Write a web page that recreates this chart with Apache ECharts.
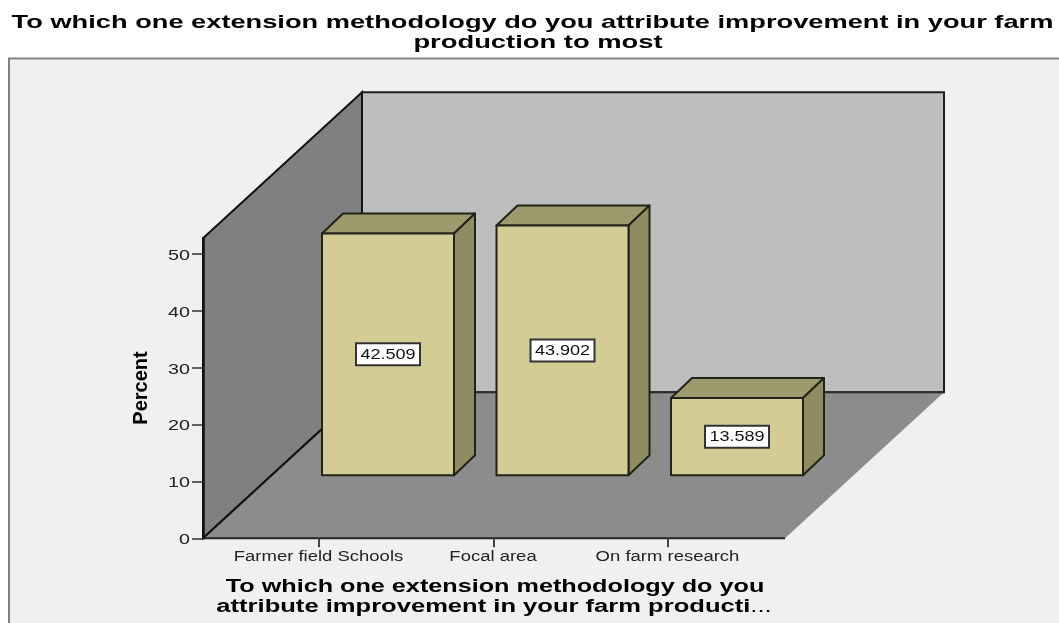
<!DOCTYPE html>
<html>
<head>
<meta charset="utf-8">
<style>html,body{margin:0;padding:0;background:#fff;overflow:hidden}#c{width:1059px;height:623px}</style>
<script src="https://cdn.jsdelivr.net/npm/echarts@6/dist/echarts.min.js"></script>
</head>
<body>
<div id="c"></div>
<script>
const categories = ['Farmer field Schools', 'Focal area', 'On farm research'];
const percents = [42.509, 43.902, 13.589];
const yTicks = [0, 10, 20, 30, 40, 50];
const yMax = 52.72;
const titleLines = ['To which one extension methodology do you attribute improvement in your farm', 'production to most'];
const xTitleLines = ['To which one extension methodology do you', 'attribute improvement in your farm producti'];
const yTitle = 'Percent';

const FONT = '"Liberation Sans", Arial, sans-serif';
const DEPTH_X = 159, DEPTH_Y = 146, WALL_INSET = 28.75;
const BAR_W = 132, BAR_DX = 69, BAR_DY = 63, BAR_DEPTH_X = 21, BAR_DEPTH_Y = 20;
const STROKE = '#222218';

function pts(a){ return {points:a}; }

function renderScene(params, api){
  const cs = params.coordSys;
  const base = api.coord([0, 0])[1];
  const top = api.coord([0, yMax])[1];
  const l = cs.x - WALL_INSET, r = cs.x + cs.width + WALL_INSET + 1;
  const bx = l + DEPTH_X, by = base - DEPTH_Y, rx = r + DEPTH_X, ty = top - DEPTH_Y;
  return {type:'group', children:[
    {type:'polygon', shape:pts([[bx,ty],[rx,ty],[rx,by],[bx,by]]), style:{fill:'#bebebe', stroke:'#1f1f1f', lineWidth:2}},
    {type:'polygon', shape:pts([[l,top],[bx,ty],[bx,by],[l,base]]), style:{fill:'#808080', stroke:'#111', lineWidth:2}},
    {type:'polygon', shape:pts([[l,base],[bx,by],[rx,by],[r,base]]), style:{fill:'#8c8c8c', stroke:null}},
    {type:'polyline', shape:pts([[bx,by],[rx,by]]), style:{fill:null, stroke:'#2a2a2a', lineWidth:2}},
    {type:'polyline', shape:pts([[l,base],[bx,by]]), style:{fill:null, stroke:'#111', lineWidth:2}},
    {type:'polyline', shape:pts([[l,base],[r,base]]), style:{fill:null, stroke:'#222', lineWidth:2}}
  ]};
}

function renderBar(params, api){
  const v = api.value(1);
  const c = api.coord([api.value(0), 0]);
  const t = api.coord([api.value(0), v]);
  const x0 = c[0] + BAR_DX - BAR_W/2, x1 = x0 + BAR_W;
  const y0 = t[1] - BAR_DY, y1 = c[1] - BAR_DY;
  const dx = BAR_DEPTH_X, dy = BAR_DEPTH_Y;
  const s = {stroke:STROKE, lineWidth:2, lineJoin:'round'};
  const cx = (x0+x1)/2, cy = (y0+y1)/2;
  return {type:'group', children:[
    {type:'polygon', shape:pts([[x0,y0],[x0+dx,y0-dy],[x1+dx,y0-dy],[x1,y0]]), style:Object.assign({fill:'#9d9a6e'},s)},
    {type:'polygon', shape:pts([[x1,y0],[x1+dx,y0-dy],[x1+dx,y1-dy],[x1,y1]]), style:Object.assign({fill:'#8f8c62'},s)},
    {type:'polygon', shape:pts([[x0,y0],[x1,y0],[x1,y1],[x0,y1]]), style:Object.assign({fill:'#d3cd95'},s)},
    {type:'rect', shape:{x:cx-32,y:cy-11,width:64,height:22}, style:{fill:'#fff', stroke:'#333', lineWidth:2}},
    {type:'text', x:cx, y:cy+0.5, scaleX:1.29, style:{text:v.toFixed(3), font:'14px '+FONT, fill:'#111', align:'center', verticalAlign:'middle'}}
  ]};
}

function renderCatLabel(params, api){
  const c = api.coord([api.value(0), 0]);
  return {type:'text', x:c[0]-0.5, y:c[1]+19, scaleX:1.32,
    style:{text:categories[api.value(0)], font:'14px '+FONT, fill:'#222', align:'center', verticalAlign:'middle'}};
}

function renderYLabel(params, api){
  const c = api.coord([0, api.value(1)]);
  return {type:'text', x:params.coordSys.x - WALL_INSET - 13, y:c[1]+2, scaleX:1.36,
    style:{text:String(api.value(1)), font:'14.5px '+FONT, fill:'#222', align:'right', verticalAlign:'middle'}};
}

const chart = echarts.init(document.getElementById('c'), null, {renderer:'canvas'});
const boldTitle = '700 18px ' + FONT;
const boldMain = '700 19px ' + FONT;
chart.setOption({
  animation:false,
  backgroundColor:'#ffffff',
  grid:{left:231.75, width:523.5, top:238.3, height:300, containLabel:false},
  xAxis:{type:'category', data:categories, boundaryGap:true, z:5,
    axisLine:{show:false},
    axisTick:{show:true, alignWithLabel:true, length:9, lineStyle:{color:'#444', width:2}},
    axisLabel:{show:false}, splitLine:{show:false}},
  yAxis:{type:'value', min:0, max:yMax, interval:10, offset:28.75, z:5,
    axisLine:{show:true, lineStyle:{color:'#111', width:2.5}},
    axisTick:{show:true, length:11, customValues:yTicks, lineStyle:{color:'#333', width:1.5}},
    axisLabel:{show:false}, splitLine:{show:false}},
  graphic:[
    {type:'rect', z:-10, shape:{x:9,y:58.5,width:1060,height:580}, style:{fill:'#f0f0f0', stroke:'#808080', lineWidth:2}},
    {type:'text', x:532.5, y:23, scaleX:1.433, z:10, style:{text:titleLines[0], font:boldMain, fill:'#000', align:'center', verticalAlign:'middle'}},
    {type:'text', x:538, y:43, scaleX:1.44, z:10, style:{text:titleLines[1], font:boldMain, fill:'#000', align:'center', verticalAlign:'middle'}},
    {type:'text', x:495, y:587, scaleX:1.4, z:10, style:{text:xTitleLines[0], font:boldTitle, fill:'#000', align:'center', verticalAlign:'middle'}},
    {type:'text', x:494, y:607, scaleX:1.42, z:10, style:{
      text:'{a|'+xTitleLines[1]+'}{b|...}', font:boldTitle, fill:'#000', align:'center', verticalAlign:'middle',
      rich:{a:{font:boldTitle, fill:'#000'}, b:{font:'18px '+FONT, fill:'#000'}}}},
    {type:'text', x:141, y:388, rotation:Math.PI/2, scaleX:1.0, z:10, style:{text:yTitle, font:'700 20px '+FONT, fill:'#000', align:'center', verticalAlign:'middle'}}
  ],
  series:[
    {type:'custom', name:'scene', z:1, silent:true, renderItem:renderScene, data:[[0,0]], encode:{x:0,y:1}},
    {type:'custom', name:'Percent', z:2, silent:true, renderItem:renderBar,
      data:percents.map((p,i)=>[i,p]), encode:{x:0,y:1}},
    {type:'custom', name:'categoryLabels', z:3, silent:true, renderItem:renderCatLabel,
      data:categories.map((c,i)=>[i,0]), encode:{x:0,y:1}},
    {type:'custom', name:'valueLabels', z:3, silent:true, renderItem:renderYLabel,
      data:yTicks.map(t=>[0,t]), encode:{x:0,y:1}}
  ]
});
</script>
</body>
</html>
